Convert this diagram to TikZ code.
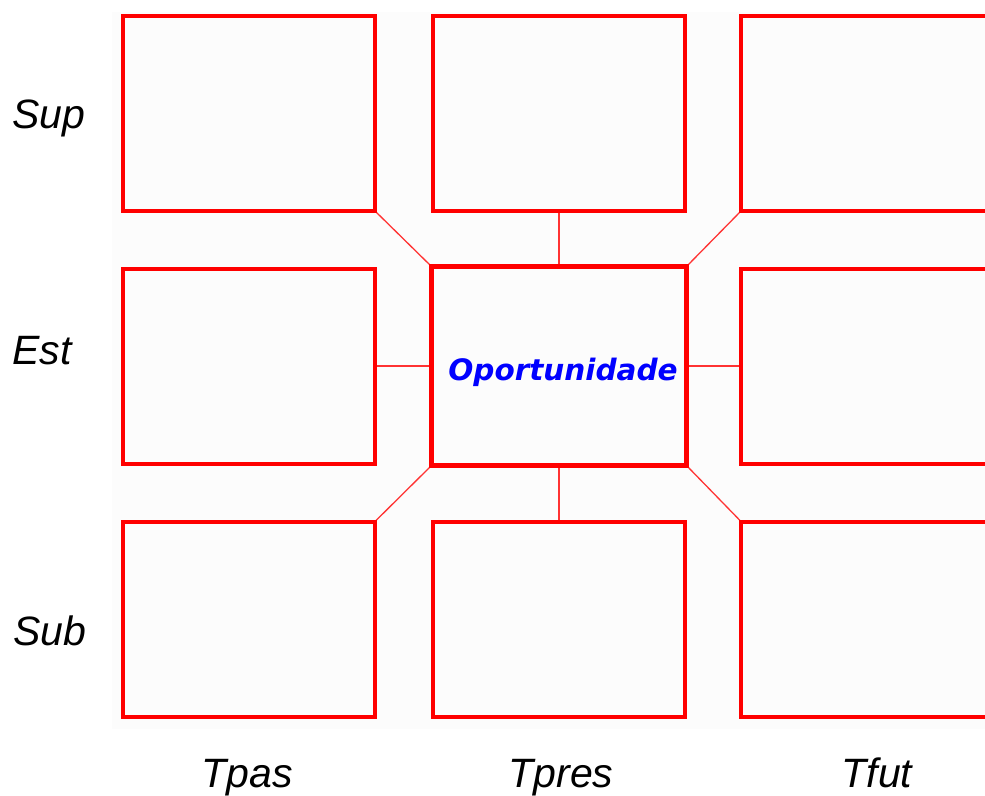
\documentclass[tikz,border=0pt]{standalone}
\usepackage{fontspec}
\setmainfont{Liberation Sans}
\newfontfamily\verdanalike{DejaVu Sans}
\definecolor{bgpanel}{HTML}{FCFCFC}
\definecolor{boxred}{HTML}{FF0000}
\definecolor{txtblue}{HTML}{0000FF}
\begin{document}
\begin{tikzpicture}[x=1pt,y=-1pt,
  cell/.style={draw=boxred,line width=4pt,rectangle,minimum width=252pt,minimum height=195pt,inner sep=0pt,outer sep=0pt},
  hub/.style={draw=boxred,line width=5.5pt,rectangle,minimum width=255pt,minimum height=199pt,inner sep=0pt,outer sep=0pt},
  link/.style={draw=boxred!80,line width=1.3pt},
  axislabel/.style={font=\fontsize{41}{46}\selectfont\itshape,text=black,inner sep=0pt}]
\useasboundingbox (0,0) rectangle (985,795);
\fill[white] (0,0) rectangle (985,795);
\fill[bgpanel] (112,12) rectangle (985,729);
% cells
\node[cell] (b11) at (249,113.5) {};
\node[cell] (b12) at (559,113.5) {};
\node[cell] (b13) at (867,113.5) {};
\node[cell] (b21) at (249,366) {};
\node[cell] (b23) at (867,366) {};
\node[cell] (b31) at (249,619) {};
\node[cell] (b32) at (559,619) {};
\node[cell] (b33) at (867,619) {};
\node[hub] (c) at (559,366) {};
% connectors
\draw[link] (b11.south east) -- (c.north west);
\draw[link] (b12.south) -- (c.north);
\draw[link] (b13.south west) -- (c.north east);
\draw[link] (b21.east) -- (c.west);
\draw[link] (b23.west) -- (c.east);
\draw[link] (b31.north east) -- (c.south west);
\draw[link] (b32.north) -- (c.south);
\draw[link] (b33.north west) -- (c.south east);
% redraw boxes over links
\node[cell] at (b11) {};
\node[cell] at (b12) {};
\node[cell] at (b13) {};
\node[cell] at (b21) {};
\node[cell] at (b23) {};
\node[cell] at (b31) {};
\node[cell] at (b32) {};
\node[cell] at (b33) {};
\node[hub] at (c) {};
\node[inner sep=0pt,text=txtblue,font=\verdanalike\fontsize{29.5}{34}\selectfont\bfseries\itshape] (ctext) at (563,372) {Oportunidade};
% labels
\node[axislabel,anchor=base west] (lsup) at (12,128) {Sup};
\node[axislabel,anchor=base west] (lest) at (12,364) {Est};
\node[axislabel,anchor=base west] (lsub) at (13,645) {Sub};
\node[axislabel,anchor=base] (ltpas) at (247,787) {Tpas};
\node[axislabel,anchor=base] (ltpres) at (561,787) {Tpres};
\node[axislabel,anchor=base] (ltfut) at (877,787) {Tfut};
\end{tikzpicture}
\end{document}
